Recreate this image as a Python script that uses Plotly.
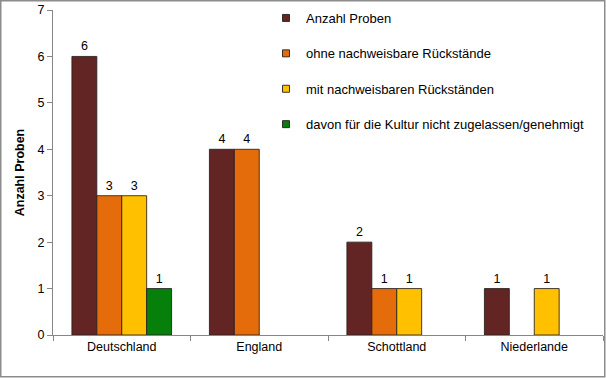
import plotly.graph_objects as go

categories = ["Deutschland", "England", "Schottland", "Niederlande"]
series_names = [
    "Anzahl Proben",
    "ohne nachweisbare Rückstände",
    "mit nachweisbaren Rückständen",
    "davon für die Kultur nicht zugelassen/genehmigt",
]
anzahl_proben = [6, 4, 2, 1]
ohne_rueckstaende = [3, 4, 1, None]
mit_rueckstaenden = [3, None, 1, 1]
nicht_zugelassen = [1, None, None, None]
y_ticks = [0, 1, 2, 3, 4, 5, 6, 7]

colors = ["#632523", "#E46C0A", "#FFC000", "#06800A"]
series_values = [anzahl_proben, ohne_rueckstaende, mit_rueckstaenden, nicht_zugelassen]

FONT = "Liberation Sans, Arial"
FS = 12.5

fig = go.Figure()
for i, (name, vals, col) in enumerate(zip(series_names, series_values, colors)):
    fig.add_trace(go.Bar(
        x=categories, y=vals, name=name,
        marker=dict(color=col, line=dict(color="rgba(40,30,30,0.85)", width=1)),
        text=[str(v) if v is not None else "" for v in vals],
        textposition="outside", cliponaxis=False,
        textfont=dict(family=FONT, size=FS, color="#000"),
        showlegend=False,
    ))
    # legend proxy with small square marker
    fig.add_trace(go.Scatter(
        x=[None], y=[None], mode="markers", name=name,
        marker=dict(symbol="square", size=7, color=col,
                    line=dict(color="rgba(40,30,30,0.9)", width=1)),
        legendgroup=f"g{i}", showlegend=True,
    ))

W, H = 606, 378
L, R, T, B = 53, 3, 10, 43
pw, ph = W - L - R, H - T - B

fig.update_layout(
    width=W, height=H,
    margin=dict(l=L, r=R, t=T, b=B, autoexpand=False),
    paper_bgcolor="white", plot_bgcolor="white",
    barmode="group", bargap=0.275, bargroupgap=0,
    font=dict(family=FONT, size=FS, color="#000"),
    legend=dict(
        x=(306 - 40 - L) / pw, xanchor="left",
        y=1.0 + (T - 3) / ph, yanchor="top",
        font=dict(size=13, color="#000"),
        tracegroupgap=15.5, bgcolor="rgba(0,0,0,0)",
    ),
    xaxis=dict(
        automargin=False,
        showline=True, linecolor="#868686", linewidth=1,
        ticks="outside", tickson="boundaries", ticklen=5, tickcolor="#868686",
        tickfont=dict(size=FS, color="#000"),
        showgrid=False, zeroline=False,
    ),
    yaxis=dict(
        automargin=False,
        range=[0, 7], tickvals=y_ticks,
        showline=True, linecolor="#868686", linewidth=1,
        ticks="outside", ticklen=5, tickcolor="#868686",
        tickfont=dict(size=FS, color="#000"),
        showgrid=False, zeroline=False,
        title=dict(text="<b>Anzahl Proben</b>", font=dict(size=FS, color="#000"), standoff=10),
    ),
    shapes=[dict(
        type="rect", xref="paper", yref="paper",
        x0=(0.75 - L) / pw, x1=(W - 1.25 - L) / pw,
        y0=-(B - 1.25) / ph, y1=1 + (T - 0.75) / ph,
        line=dict(color="#8c8c8c", width=1.5), fillcolor="rgba(0,0,0,0)", layer="below",
    )],
)

fig.write_html(
    "out.html",
    config={"displayModeBar": False},
    post_script="document.body.style.margin='0';document.body.style.overflow='hidden';",
)
